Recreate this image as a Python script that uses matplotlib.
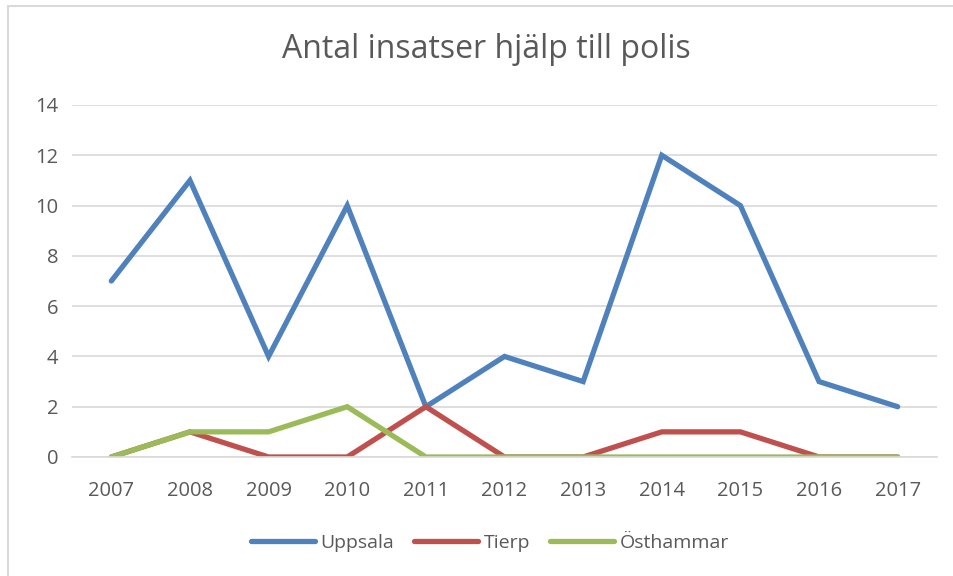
import matplotlib.pyplot as plt
from matplotlib.patches import Rectangle

years = ["2007", "2008", "2009", "2010", "2011", "2012", "2013", "2014", "2015", "2016", "2017"]
uppsala = [7, 11, 4, 10, 2, 4, 3, 12, 10, 3, 2]
tierp = [0, 1, 0, 0, 2, 0, 0, 1, 1, 0, 0]
osthammar = [0, 1, 1, 2, 0, 0, 0, 0, 0, 0, 0]

series = [
    ("Uppsala", uppsala, "#4F81BD"),
    ("Tierp", tierp, "#C0504D"),
    ("Östhammar", osthammar, "#9BBB59"),
]

plt.rcParams['font.family'] = ['Open Sans', 'DejaVu Sans']
text_col = "#595959"

fig = plt.figure(figsize=(9.54, 5.76), dpi=100)
# chart frame
fig.patches.append(Rectangle((8 / 954, -0.05), 1.1, 1 - 6 / 576 + 0.05,
                             transform=fig.transFigure, fill=False,
                             edgecolor="#D9D9D9", linewidth=1.5))

ax = fig.add_axes([72 / 954, 1 - 457 / 576, 865 / 954, 352 / 576])
x = list(range(len(years)))
for name, vals, col in series:
    ax.plot(x, vals, color=col, linewidth=3.8, solid_capstyle="round",
            solid_joinstyle="miter", label=name)

ax.set_xlim(-0.5, len(years) - 0.5)
ax.set_ylim(0, 14)
ax.set_yticks(range(0, 15, 2))
ax.set_xticks(x)
ax.set_xticklabels(years)
ax.grid(axis="y", color="#D9D9D9", linewidth=1.2)
ax.set_axisbelow(True)
for s in ax.spines.values():
    s.set_visible(False)
ax.spines["bottom"].set_visible(True)
ax.spines["bottom"].set_color("#D9D9D9")
ax.spines["bottom"].set_linewidth(1.2)
ax.tick_params(length=0, labelsize=14.5, colors=text_col)
ax.tick_params(axis="x", pad=17)
ax.tick_params(axis="y", pad=10)

fig.text(486 / 954, 1 - 49 / 576, "Antal insatser hjälp till polis", ha="center",
         va="center", fontsize=23, color=text_col)

leg = fig.legend(loc="center", bbox_to_anchor=(490 / 954, 1 - 543 / 576), ncol=3,
                 frameon=False, fontsize=14, handlelength=3.3,
                 columnspacing=1.0, handletextpad=0.3)
for t in leg.get_texts():
    t.set_color(text_col)

fig.savefig("out.png", dpi=100)
